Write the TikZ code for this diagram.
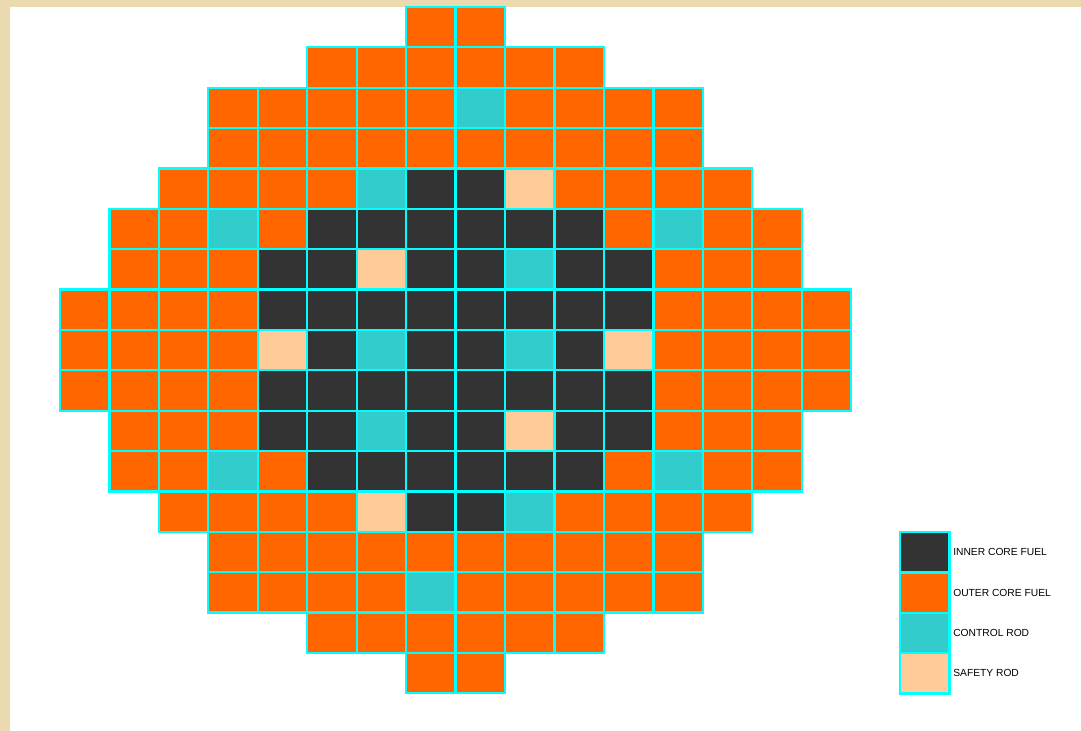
\documentclass[tikz,border=0pt]{standalone}
\usepackage{fontspec}
\setmainfont{Liberation Sans}
\usepackage{xcolor}
\usetikzlibrary{positioning}

\definecolor{frame}{HTML}{EBD9B0}
\definecolor{gridline}{HTML}{00FFFF}
\definecolor{innerfuel}{HTML}{333333}
\definecolor{outerfuel}{HTML}{FF6600}
\definecolor{controlrod}{HTML}{33CCCC}
\definecolor{safetyrod}{HTML}{FFCC99}

% one row of core positions: row, first column, list of cell kinds
\newcommand{\corerow}[3]{%
  \foreach \k [count=\i from #2] in {#3}
    \path[cell, \k] ({60+\i*49.45}, {7+#1*40.37}) rectangle ++(49.45, 40.37);
}

\begin{document}
\begin{tikzpicture}[
  x=0.025cm, y=-0.025cm,
  font=\fontsize{7.3}{8}\selectfont,
  cell/.style={draw=gridline, line width=1.6pt},
  icf/.style={fill=innerfuel},
  ocf/.style={fill=outerfuel},
  ctl/.style={fill=controlrod},
  saf/.style={fill=safetyrod},
  legbox/.style={cell, minimum width=1.236cm, minimum height=1.009cm,
    inner sep=0pt, outer sep=0pt},
  leglabel/.style={inner sep=0pt, anchor=west, text=black}
]
\useasboundingbox (0,0) rectangle (1081,731);
\fill[white] (0,0) rectangle (1081,731);
\fill[frame] (0,0) rectangle (10,731);
\fill[frame] (0,0) rectangle (1081,7);

% ============ CORE MAP ============
\corerow{0}{7}{ocf,ocf}
\corerow{1}{5}{ocf,ocf,ocf,ocf,ocf,ocf}
\corerow{2}{3}{ocf,ocf,ocf,ocf,ocf,ctl,ocf,ocf,ocf,ocf}
\corerow{3}{3}{ocf,ocf,ocf,ocf,ocf,ocf,ocf,ocf,ocf,ocf}
\corerow{4}{2}{ocf,ocf,ocf,ocf,ctl,icf,icf,saf,ocf,ocf,ocf,ocf}
\corerow{5}{1}{ocf,ocf,ctl,ocf,icf,icf,icf,icf,icf,icf,ocf,ctl,ocf,ocf}
\corerow{6}{1}{ocf,ocf,ocf,icf,icf,saf,icf,icf,ctl,icf,icf,ocf,ocf,ocf}
\corerow{7}{0}{ocf,ocf,ocf,ocf,icf,icf,icf,icf,icf,icf,icf,icf,ocf,ocf,ocf,ocf}
\corerow{8}{0}{ocf,ocf,ocf,ocf,saf,icf,ctl,icf,icf,ctl,icf,saf,ocf,ocf,ocf,ocf}
\corerow{9}{0}{ocf,ocf,ocf,ocf,icf,icf,icf,icf,icf,icf,icf,icf,ocf,ocf,ocf,ocf}
\corerow{10}{1}{ocf,ocf,ocf,icf,icf,ctl,icf,icf,saf,icf,icf,ocf,ocf,ocf}
\corerow{11}{1}{ocf,ocf,ctl,ocf,icf,icf,icf,icf,icf,icf,ocf,ctl,ocf,ocf}
\corerow{12}{2}{ocf,ocf,ocf,ocf,saf,icf,icf,ctl,ocf,ocf,ocf,ocf}
\corerow{13}{3}{ocf,ocf,ocf,ocf,ocf,ocf,ocf,ocf,ocf,ocf}
\corerow{14}{3}{ocf,ocf,ocf,ocf,ctl,ocf,ocf,ocf,ocf,ocf}
\corerow{15}{5}{ocf,ocf,ocf,ocf,ocf,ocf}
\corerow{16}{7}{ocf,ocf}

% ============ LEGEND ============
\node[legbox, icf] (keyinner) at (924.7,552.2) {};
\node[legbox, ocf, below=0pt of keyinner] (keyouter) {};
\node[legbox, ctl, below=0pt of keyouter] (keyctrl) {};
\node[legbox, saf, below=0pt of keyctrl] (keysafe) {};
\node[leglabel, right=0.09cm of keyinner] (labinner) {INNER CORE FUEL};
\node[leglabel, right=0.09cm of keyouter] (labouter) {OUTER CORE FUEL};
\node[leglabel, right=0.09cm of keyctrl] (labctrl) {CONTROL ROD};
\node[leglabel, right=0.09cm of keysafe] (labsafe) {SAFETY ROD};

\end{tikzpicture}
\end{document}
